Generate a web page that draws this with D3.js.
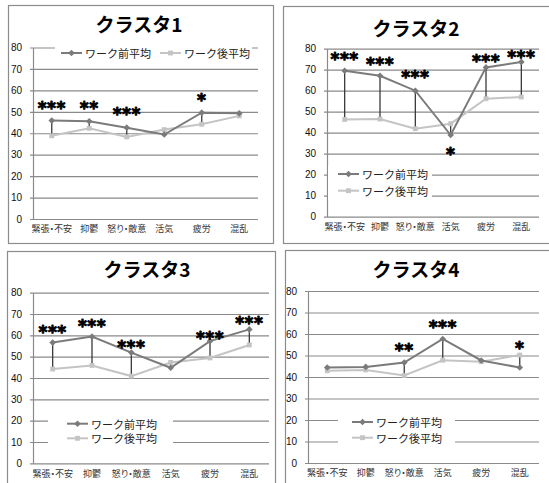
<!DOCTYPE html>
<html lang="ja">
<head>
  <meta charset="UTF-8">
  <title>クラスタ別 ワーク前後平均</title>
  <script src="https://d3js.org/d3.v7.min.js"></script>
  <style>
    body { margin: 0; background: #fff; }
    svg { display: block; }
  </style>
</head>
<body>
  <svg width="549" height="483"></svg>

  <script>
  // values
  const categories = ["緊張・不安", "抑鬱", "怒り・敵意", "活気", "疲労", "混乱"];
  const yTicks = [0, 10, 20, 30, 40, 50, 60, 70, 80];
  const titles = ["クラスタ1", "クラスタ2", "クラスタ3", "クラスタ4"];
  const seriesNames = ["ワーク前平均", "ワーク後平均"];

  const pre1 = [45.9, 45.6, 42.6, 39.4, 49.6, 49.3];
  const post1 = [38.8, 42.3, 38.3, 41.7, 44.2, 48.1];
  const pre2 = [69.5, 67.1, 60.0, 38.9, 71.1, 73.7];
  const post2 = [46.3, 46.5, 41.9, 44.3, 56.2, 57.0];
  const pre3 = [56.6, 59.4, 51.9, 44.8, 57.3, 62.8];
  const post3 = [44.2, 45.9, 40.9, 47.3, 49.4, 55.5];
  const pre4 = [44.4, 44.7, 46.7, 57.7, 47.7, 44.4];
  const post4 = [42.9, 43.3, 40.7, 47.8, 47.1, 50.2];

  // significance marks and the value they sit at
  const stars1 = ["***", "**", "***", "", "*", ""];
  const starAt1 = [53.3, 53.3, 50.4, null, 57.0, null];
  const stars2 = ["***", "***", "***", "*", "***", "***"];
  const starAt2 = [77.0, 74.6, 68.0, 31.7, 75.9, 77.5];
  const stars3 = ["***", "***", "***", "", "***", "***"];
  const starAt3 = [63.3, 66.1, 56.3, null, 60.5, 67.2];
  const stars4 = ["", "", "**", "***", "", "*"];
  const starAt4 = [null, null, 54.2, 65.0, null, 55.0];

  const preColor = "#7b7b7b";
  const postColor = "#c4c4c4";
  const gridColor = "#8a8a8a";

  // panel geometry (frame, plot area, title, legend)
  const panels = [
    { pre: pre1, post: post1, stars: stars1, starAt: starAt1,
      frame: [8, 5, 273, 243], plot: [33, 258, 47.5, 219], title: [139, 23],
      legendBox: [55, 45, 252, 61], legendItems: [[61, 53], [160, 53]] },
    { pre: pre2, post: post2, stars: stars2, starAt: starAt2,
      frame: [283, 6, 560, 243], plot: [327, 539, 48.7, 216.7], title: [416, 27],
      legendBox: [328, 166, 432, 200], legendItems: [[338, 174], [338, 190.7]] },
    { pre: pre3, post: post3, stars: stars3, starAt: starAt3,
      frame: [7, 251, 275, 500], plot: [33, 269, 292.7, 463.3], title: [147, 268],
      legendBox: [48, 415, 173, 446], legendItems: [[67, 423.7], [67, 438.3]] },
    { pre: pre4, post: post4, stars: stars4, starAt: starAt4,
      frame: [285, 250, 560, 500], plot: [308, 539, 291, 463], title: [416, 268],
      legendBox: [338, 414, 455, 445], legendItems: [[352, 422], [352, 437.7]] }
  ];

  const svg = d3.select("svg");
  const diamond = d3.symbol().type(d3.symbolDiamond2).size(28);
  const square = d3.symbol().type(d3.symbolSquare2).size(30);

  panels.forEach((p, i) => {
    const g = svg.append("g");
    const [fx0, fy0, fx1, fy1] = p.frame;
    const [px0, px1, py80, py0] = p.plot;

    g.append("rect")
      .attr("x", fx0 + 0.5).attr("y", fy0 + 0.5)
      .attr("width", fx1 - fx0).attr("height", fy1 - fy0)
      .attr("fill", "#fff")
      .attr("stroke", "#8c8c8c")
      .attr("stroke-width", 1.2);

    const x = d3.scaleBand().domain(categories).range([px0, px1]);
    const y = d3.scaleLinear().domain([0, 80]).range([py0, py80]);

    // y axis + gridlines
    const yAxis = g.append("g")
      .attr("transform", `translate(${px0},0)`)
      .call(d3.axisLeft(y).tickValues(yTicks).tickSize(-(px1 - px0)).tickSizeOuter(0).tickPadding(11));
    yAxis.select(".domain").attr("stroke", gridColor).attr("stroke-width", 1.2);
    yAxis.selectAll(".tick line")
      .attr("x1", -3)
      .attr("stroke", gridColor)
      .attr("stroke-width", 1.2);
    yAxis.selectAll(".tick text")
      .attr("fill", "#111")
      .style("font-family", "'Liberation Sans', Arial, sans-serif")
      .style("font-size", "10px");

    // x axis labels
    const xAxis = g.append("g")
      .attr("transform", `translate(0,${py0})`)
      .call(d3.axisBottom(x).tickSize(0).tickPadding(7));
    xAxis.select(".domain").remove();
    xAxis.selectAll(".tick text")
      .attr("fill", "#333")
      .style("font-family", "'Noto Sans CJK JP', sans-serif")
      .style("font-feature-settings", "'palt'")
      .style("font-size", "9px");

    // title
    g.append("text")
      .attr("x", p.title[0]).attr("y", p.title[1])
      .attr("text-anchor", "middle")
      .attr("dominant-baseline", "central")
      .style("font-family", "'Noto Sans CJK JP', sans-serif")
      .style("font-weight", "bold")
      .style("font-size", "19px")
      .text(titles[i]);

    const cx = (d, k) => x(categories[k]) + x.bandwidth() / 2;

    // high-low lines
    g.selectAll(".hl").data(categories).join("line")
      .attr("x1", (d, k) => cx(d, k)).attr("x2", (d, k) => cx(d, k))
      .attr("y1", (d, k) => y(p.pre[k])).attr("y2", (d, k) => y(p.post[k]))
      .attr("stroke", "#3a3a3a")
      .attr("stroke-width", 1.3);

    const line = d3.line().x((d, k) => cx(d, k)).y(d => y(d));

    g.append("path").datum(p.post)
      .attr("d", line).attr("fill", "none")
      .attr("stroke", postColor).attr("stroke-width", 2);
    g.selectAll(".sq").data(p.post).join("path")
      .attr("d", square)
      .attr("transform", (d, k) => `translate(${cx(d, k)},${y(d)})`)
      .attr("fill", postColor);

    g.append("path").datum(p.pre)
      .attr("d", line).attr("fill", "none")
      .attr("stroke", preColor).attr("stroke-width", 2);
    g.selectAll(".dm").data(p.pre).join("path")
      .attr("d", diamond)
      .attr("transform", (d, k) => `translate(${cx(d, k)},${y(d)})`)
      .attr("fill", preColor);

    // significance stars
    g.selectAll(".star").data(p.stars.map((s, k) => ({ s, k })).filter(d => d.s))
      .join("text")
      .attr("x", d => cx(null, d.k))
      .attr("y", d => y(p.starAt[d.k]) + 9.5)
      .attr("text-anchor", "middle")
      .style("font-family", "'DejaVu Sans', sans-serif")
      .style("font-weight", "bold")
      .style("font-size", "17px")
      .style("letter-spacing", "0.5px")
      .attr("fill", "#000")
      .attr("stroke", "#000")
      .attr("stroke-width", 0.9)
      .attr("stroke-linejoin", "round")
      .text(d => d.s);

    // legend
    const [lx0, ly0, lx1, ly1] = p.legendBox;
    g.append("rect")
      .attr("x", lx0).attr("y", ly0)
      .attr("width", lx1 - lx0).attr("height", ly1 - ly0)
      .attr("fill", "#fff");
    p.legendItems.forEach(([ix, iy], j) => {
      const col = j === 0 ? preColor : postColor;
      g.append("line")
        .attr("x1", ix).attr("x2", ix + 21)
        .attr("y1", iy).attr("y2", iy)
        .attr("stroke", col).attr("stroke-width", 2);
      g.append("path")
        .attr("d", j === 0 ? diamond : square)
        .attr("transform", `translate(${ix + 10.5},${iy})`)
        .attr("fill", col);
      g.append("text")
        .attr("x", ix + 24).attr("y", iy)
        .attr("dominant-baseline", "central")
        .style("font-family", "'Noto Sans CJK JP', sans-serif")
        .style("font-size", "11px")
        .attr("fill", "#222")
        .text(seriesNames[j]);
    });
  });
  </script>
</body>
</html>
